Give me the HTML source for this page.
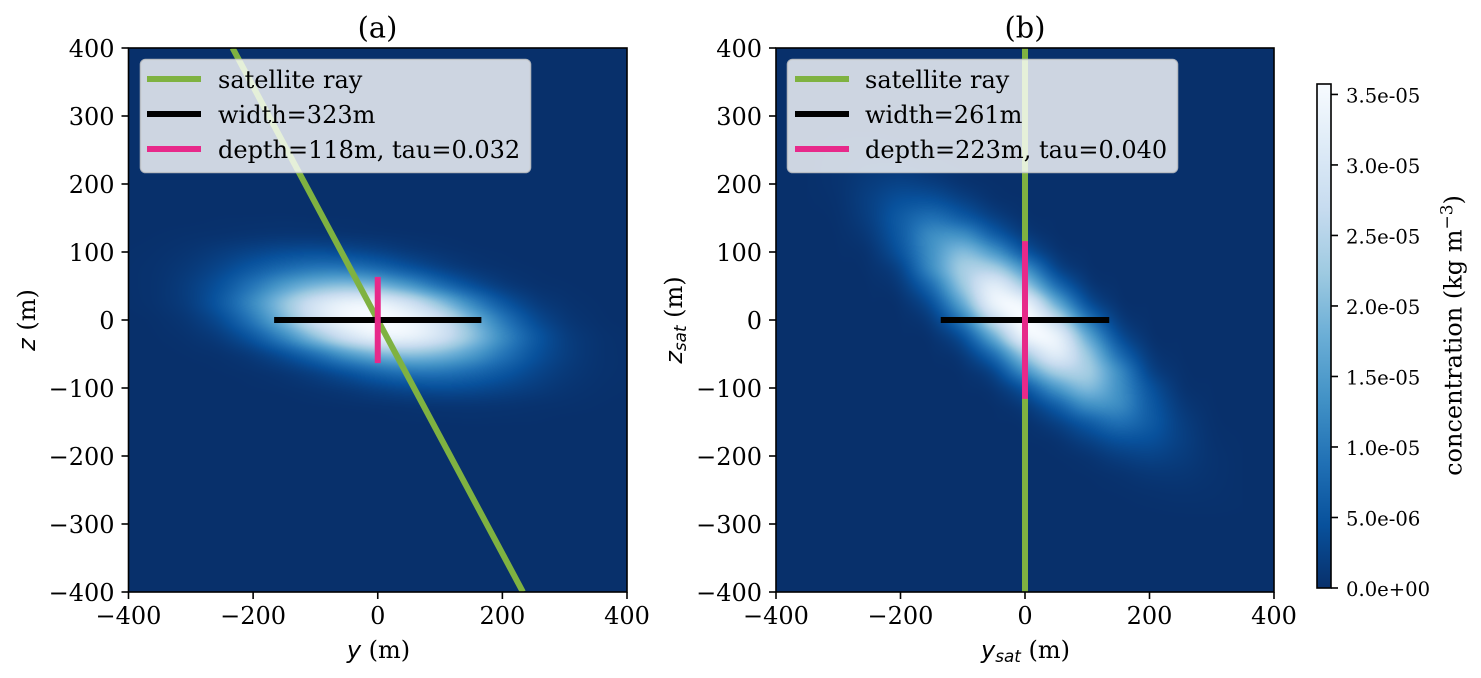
<!DOCTYPE html>
<html>
<head>
<meta charset="utf-8">
<title>Plume concentration</title>
<style>
html,body{margin:0;padding:0;background:#fff;}
#fig{position:relative;width:1481px;height:678px;overflow:hidden;background:#fff;}
canvas{position:absolute;display:block;}
svg{position:absolute;left:0;top:0;}
text{font-family:"DejaVu Serif","Liberation Serif",serif;font-size:24px;fill:#000;}
.mi{font-family:"DejaVu Sans","Liberation Sans",sans-serif;font-style:italic;}
.cbt{font-size:19.6px;}
.ttl{font-size:28.8px;}
</style>
</head>
<body>
<div id="fig">
<canvas id="heat-a" width="499" height="544" style="left:128px;top:48px"></canvas>
<canvas id="heat-b" width="498" height="544" style="left:776px;top:48px"></canvas>
<svg id="svg" width="1481" height="678" viewBox="0 0 1481 678">
  <defs>
    <clipPath id="clip-a"><rect x="128" y="48" width="499" height="544"/></clipPath>
    <clipPath id="clip-b"><rect x="776" y="48" width="498" height="544"/></clipPath>
    <linearGradient id="cb-grad" x1="0" y1="1" x2="0" y2="0"></linearGradient>
  </defs>
  <g id="marks-a" clip-path="url(#clip-a)"></g>
  <g id="marks-b" clip-path="url(#clip-b)"></g>

  <g>
    <rect x="140.5" y="59.5" width="390" height="113" rx="5" fill="rgba(255,255,255,0.8)" stroke="rgba(204,204,204,0.8)" stroke-width="1.6"/>
    <line x1="147" x2="201" y1="79" y2="79" stroke="#7fb241" stroke-width="6"/>
    <line x1="147" x2="201" y1="114" y2="114" stroke="#000" stroke-width="6"/>
    <line x1="147" x2="201" y1="149" y2="149" stroke="#e7298a" stroke-width="6"/>
    <text x="218" y="88">satellite ray</text>
    <text x="218" y="123">width=323m</text>
    <text x="218" y="158">depth=118m, tau=0.032</text>
  </g>
  <g>
    <rect x="787.5" y="59.5" width="390" height="113" rx="5" fill="rgba(255,255,255,0.8)" stroke="rgba(204,204,204,0.8)" stroke-width="1.6"/>
    <line x1="795" x2="849" y1="79" y2="79" stroke="#7fb241" stroke-width="6"/>
    <line x1="795" x2="849" y1="114" y2="114" stroke="#000" stroke-width="6"/>
    <line x1="795" x2="849" y1="149" y2="149" stroke="#e7298a" stroke-width="6"/>
    <text x="865" y="88">satellite ray</text>
    <text x="865" y="123">width=261m</text>
    <text x="865" y="158">depth=223m, tau=0.040</text>
  </g>

  <g id="axes-a"></g>
  <g id="axes-b"></g>

  <text class="ttl" x="377.5" y="37.5" text-anchor="middle">(a)</text>
  <text class="ttl" x="1025" y="37.5" text-anchor="middle">(b)</text>

  <text x="378.5" y="658" text-anchor="middle"><tspan class="mi">y</tspan> (m)</text>
  <text x="1025.5" y="658" text-anchor="middle"><tspan class="mi">y</tspan><tspan class="mi" dy="4" style="font-size:16.8px">sat</tspan><tspan dy="-4"> (m)</tspan></text>
  <text transform="translate(35,320) rotate(-90)" text-anchor="middle"><tspan class="mi">z</tspan> (m)</text>
  <text transform="translate(682,320) rotate(-90)" text-anchor="middle"><tspan class="mi">z</tspan><tspan class="mi" dy="4" style="font-size:16.8px">sat</tspan><tspan dy="-4"> (m)</tspan></text>

  <g id="colorbar">
    <rect x="1317" y="84" width="14" height="504" fill="url(#cb-grad)"/>
    <rect x="1317" y="84" width="14" height="504" fill="none" stroke="#000" stroke-width="1.6"/>
  </g>
  <text transform="translate(1461.5,335.5) rotate(-90)" text-anchor="middle">concentration (kg m<tspan dy="-9" style="font-size:17px">−3</tspan><tspan dy="9">)</tspan></text>
</svg>
</div>

<script>
// ---- chart data ----
var xTicks = [-400, -200, 0, 200, 400];
var yTicks = [-400, -300, -200, -100, 0, 100, 200, 300, 400];
var axisLimits = [-400, 400];

var rayAY = [-233, 233];
var rayAZ = [400, -400];
var widthAY = [-161.5, 161.5];
var widthAZ = [0, 0];
var depthAY = [0, 0];
var depthAZ = [-59, 59];

var rayBY = [0, 0];
var rayBZ = [400, -400];
var widthBY = [-130.5, 130.5];
var widthBZ = [0, 0];
var depthBY = [0, 0];
var depthBZ = [-111.5, 111.5];

var cbTickValues = [0, 5e-6, 1e-5, 1.5e-5, 2e-5, 2.5e-5, 3e-5, 3.5e-5];
var cbTickLabels = ["0.0e+00", "5.0e-06", "1.0e-05", "1.5e-05", "2.0e-05", "2.5e-05", "3.0e-05", "3.5e-05"];
var concMax = 35.74; // 1e-6 kg m-3

// Blues_r colormap
var cmapColors = ["#08306b", "#08519c", "#2171b5", "#4292c6", "#6baed6", "#9ecae1", "#c6dbef", "#deebf7", "#f7fbff"];

// Concentration grids (units 1e-6 kg m-3)
var gridAY = [-400,-350,-300,-250,-200,-150,-100,-50,0,50,100,150,200,250,300,350,400];
var gridAZ = [175,150,125,100,75,50,25,0,-25,-50,-75,-100,-125,-150,-175];
var gridA = [
[0,0,0,0,0,0,0,0,0,0,0,0,0,0,0,0,0],
[0,0,0,.07,.1,.13,.09,.07,0,0,0,0,0,0,0,0,0],
[0,.08,.23,.42,.7,.9,.9,.65,.42,.2,.07,0,0,0,0,0,0],
[.07,.26,.75,1.7,2.8,3.8,4.2,3.7,2.7,1.5,.7,.23,.06,0,0,0,0],
[.13,.45,1.4,3.2,5.8,8.4,10.2,10.2,8.3,5.5,2.9,1.2,.4,.09,0,0,0],
[.13,.55,2,4.9,9.7,15.2,19.4,21,19.2,15,9.3,4.7,1.8,.5,.13,0,0],
[.09,.52,2,5.8,12.5,21,28.7,32.9,32.9,28.5,20.8,12.2,5.6,1.9,.52,.08,0],
[0,.23,1.2,4,10.1,18.9,28.3,34,35.7,34,28.3,18.9,10.1,4,1.2,.23,0],
[0,.08,.52,1.9,5.6,12.2,20.8,28.5,32.9,32.9,28.7,21,12.5,5.8,2,.52,.09],
[0,0,.13,.5,1.8,4.7,9.3,15,19.2,21,19.4,15.2,9.7,4.9,2,.55,.13],
[0,0,0,.09,.4,1.2,2.9,5.5,8.3,10.2,10.2,8.4,5.8,3.2,1.4,.45,.13],
[0,0,0,0,.06,.23,.7,1.5,2.7,3.7,4.2,3.8,2.8,1.7,.75,.26,.07],
[0,0,0,0,0,0,.07,.2,.42,.65,.9,.9,.7,.42,.23,.08,0],
[0,0,0,0,0,0,0,0,0,.07,.09,.13,.1,.07,0,0,0],
[0,0,0,0,0,0,0,0,0,0,0,0,0,0,0,0,0]
];

var gridBY = [-350,-300,-250,-200,-150,-100,-50,0,50,100,150,200,250,300,350];
var gridBZ = [300,275,250,225,200,175,150,125,100,75,50,25,0,-25,-50,-75,-100,-125,-150,-175,-200,-225,-250,-275,-300];
var gridB = [
[0,0,0,0,0,0,0,0,0,0,0,0,0,0,0],
[.06,.14,.15,.08,.01,0,0,0,0,0,0,0,0,0,0],
[.08,.28,.46,.35,.13,.01,0,0,0,0,0,0,0,0,0],
[.08,.42,1,1.1,.56,.13,0,0,0,0,0,0,0,0,0],
[.07,.49,1.7,2.6,2,.7,.1,0,0,0,0,0,0,0,0],
[.04,.42,2.2,4.4,4.7,2.6,.63,.07,0,0,0,0,0,0,0],
[.01,.28,2.1,5.9,8.8,6.2,2.5,.39,.03,0,0,0,0,0,0],
[0,.14,1.5,6,12.5,13,6.7,1.8,.17,0,0,0,0,0,0],
[0,.06,.77,5,13.4,19.7,14.3,5.6,1,.08,0,0,0,0,0],
[0,.01,.35,3,12.7,23,23.6,13.8,3.5,.42,.01,0,0,0,0],
[0,0,.11,1.5,8.6,21.9,31.5,22.8,9.1,1.7,.11,0,0,0,0],
[0,0,.03,.5,4.7,17.3,33,33,17.7,4.8,.56,.03,0,0,0],
[0,0,0,.13,2,10.6,26.6,35.7,26.6,10.6,2,.13,0,0,0],
[0,0,0,.03,.56,4.8,17.7,33,33,17.3,4.7,.5,.03,0,0],
[0,0,0,0,.11,1.7,9.1,22.8,31.5,21.9,8.6,1.5,.11,0,0],
[0,0,0,0,.01,.42,3.5,13.8,23.6,23,12.7,3,.35,.01,0],
[0,0,0,0,0,.08,1,5.6,14.3,19.7,13.4,5,.77,.06,0],
[0,0,0,0,0,0,.17,1.8,6.7,13,12.5,6,1.5,.14,0],
[0,0,0,0,0,0,.03,.39,2.5,6.2,8.8,5.9,2.1,.28,.01],
[0,0,0,0,0,0,0,.07,.63,2.6,4.7,4.4,2.2,.42,.04],
[0,0,0,0,0,0,0,0,.1,.7,2,2.6,1.7,.49,.07],
[0,0,0,0,0,0,0,0,0,.13,.56,1.1,1,.42,.08],
[0,0,0,0,0,0,0,0,0,.01,.13,.35,.46,.28,.08],
[0,0,0,0,0,0,0,0,0,0,.01,.08,.15,.14,.06],
[0,0,0,0,0,0,0,0,0,0,0,0,0,0,0]
];

// ---- rendering ----
var SVGNS = "http://www.w3.org/2000/svg";
function scale(d0, d1, r0, r1) {
  return function (v) { return r0 + (v - d0) * (r1 - r0) / (d1 - d0); };
}
function svgEl(tag, parent) {
  var e = document.createElementNS(SVGNS, tag);
  parent.appendChild(e);
  return e;
}
function setA(e, o) { for (var k in o) e.setAttribute(k, o[k]); return e; }

function hex(c) { return [parseInt(c.substr(1,2),16), parseInt(c.substr(3,2),16), parseInt(c.substr(5,2),16)]; }
var cmapRGB = cmapColors.map(hex);
function colorAt(t) {
  t = Math.max(0, Math.min(1, t)) * (cmapRGB.length - 1);
  var i = Math.min(cmapRGB.length - 2, Math.floor(t)), f = t - i, a = cmapRGB[i], b = cmapRGB[i + 1];
  return [a[0] + (b[0] - a[0]) * f, a[1] + (b[1] - a[1]) * f, a[2] + (b[2] - a[2]) * f];
}
function cr(p0, p1, p2, p3, t) {
  return 0.5 * (2 * p1 + (p2 - p0) * t + (2 * p0 - 5 * p1 + 4 * p2 - p3) * t * t + (3 * p1 - p0 - 3 * p2 + p3) * t * t * t);
}
function sampleGrid(grid, ys, zs, y, z) {
  var u = (y - ys[0]) / (ys[1] - ys[0]);
  var v = (z - zs[0]) / (zs[1] - zs[0]);
  if (u < 0 || v < 0 || u >= ys.length - 1 || v >= zs.length - 1) return 0;
  var iu = Math.floor(u), iv = Math.floor(v), fu = u - iu, fv = v - iv, col = [];
  for (var r = -1; r <= 2; r++) {
    var row = grid[iv + r];
    if (!row) { col.push(0); continue; }
    col.push(cr(row[iu - 1] || 0, row[iu], row[iu + 1] || 0, row[iu + 2] || 0, fu));
  }
  return Math.max(0, cr(col[0], col[1], col[2], col[3], fv));
}
function drawHeat(id, grid, ys, zs, sxInv, szInv, left, top) {
  var cv = document.getElementById(id), ctx = cv.getContext("2d");
  var w = cv.width, h = cv.height, img = ctx.createImageData(w, h), d = img.data;
  for (var py = 0; py < h; py++) {
    var z = szInv(top + py + 0.5);
    for (var px = 0; px < w; px++) {
      var c = sampleGrid(grid, ys, zs, sxInv(left + px + 0.5), z);
      var rgb = colorAt(c / concMax), k = (py * w + px) * 4;
      d[k] = rgb[0]; d[k + 1] = rgb[1]; d[k + 2] = rgb[2]; d[k + 3] = 255;
    }
  }
  ctx.putImageData(img, 0, 0);
}
function drawLine(parent, sx, sy, xs, ys, color, cap, name) {
  var l = svgEl("line", parent);
  setA(l, { x1: sx(xs[0]), x2: sx(xs[1]), y1: sy(ys[0]), y2: sy(ys[1]), stroke: color, "stroke-width": 6, "stroke-linecap": cap });
  
  
}
function fmt(v) { return v < 0 ? "\u2212" + Math.abs(v) : String(v); }
function drawAxes(parent, sx, sy, L, R, T, B) {
  var frame = svgEl("rect", parent);
  setA(frame, { x: L, y: T, width: R - L, height: B - T, fill: "none", stroke: "#000", "stroke-width": 1.6 });
  
  
  xTicks.forEach(function (v) {
    var t = svgEl("line", parent);
    setA(t, { x1: sx(v), x2: sx(v), y1: B, y2: B + 7, stroke: "#000", "stroke-width": 1.6 });
    
    
    var s = svgEl("text", parent);
    setA(s, { x: sx(v), y: 624, "text-anchor": "middle" });
    
    
    s.textContent = fmt(v);
  });
  yTicks.forEach(function (v) {
    var t = svgEl("line", parent);
    setA(t, { x1: L - 7, x2: L, y1: sy(v), y2: sy(v), stroke: "#000", "stroke-width": 1.6 });
    
    
    var s = svgEl("text", parent);
    setA(s, { x: L - 14, y: sy(v) + 8.8, "text-anchor": "end" });
    
    
    s.textContent = fmt(v);
  });
}

var sxA = scale(axisLimits[0], axisLimits[1], 128.5, 627);
var sxB = scale(axisLimits[0], axisLimits[1], 776, 1274);
var sz = scale(axisLimits[0], axisLimits[1], 592, 48);
var sxAInv = scale(128.5, 627, axisLimits[0], axisLimits[1]);
var sxBInv = scale(776, 1274, axisLimits[0], axisLimits[1]);
var szInv = scale(592, 48, axisLimits[0], axisLimits[1]);

drawHeat("heat-a", gridA, gridAY, gridAZ, sxAInv, szInv, 128, 48);
drawHeat("heat-b", gridB, gridBY, gridBZ, sxBInv, szInv, 776, 48);

var mA = document.getElementById("marks-a"), mB = document.getElementById("marks-b");
drawLine(mA, sxA, sz, rayAY, rayAZ, "#7fb241", "butt", "satellite-ray-a");
drawLine(mA, sxA, sz, widthAY, widthAZ, "#000", "square", "width-line-a");
drawLine(mA, sxA, sz, depthAY, depthAZ, "#e7298a", "square", "depth-line-a");
drawLine(mB, sxB, sz, rayBY, rayBZ, "#7fb241", "butt", "satellite-ray-b");
drawLine(mB, sxB, sz, widthBY, widthBZ, "#000", "square", "width-line-b");
drawLine(mB, sxB, sz, depthBY, depthBZ, "#e7298a", "square", "depth-line-b");

drawAxes(document.getElementById("axes-a"), sxA, sz, 128.5, 627, 48, 592);
drawAxes(document.getElementById("axes-b"), sxB, sz, 776, 1274, 48, 592);

// colorbar
var grad = document.getElementById("cb-grad");
cmapColors.forEach(function (c, i) {
  var st = svgEl("stop", grad);
  setA(st, { offset: i / (cmapColors.length - 1), "stop-color": c });
});
var cbG = document.getElementById("colorbar");
var scb = scale(0, concMax * 1e-6, 588, 84);
cbTickValues.forEach(function (v, i) {
  var t = svgEl("line", cbG);
  setA(t, { x1: 1331, x2: 1338, y1: scb(v), y2: scb(v), stroke: "#000", "stroke-width": 1.6 });
  
  
  var s = svgEl("text", cbG);
  setA(s, { x: 1346, y: scb(v) + 8, "class": "cbt" });
  
  
  s.textContent = cbTickLabels[i];
});
</script>
</body>
</html>
